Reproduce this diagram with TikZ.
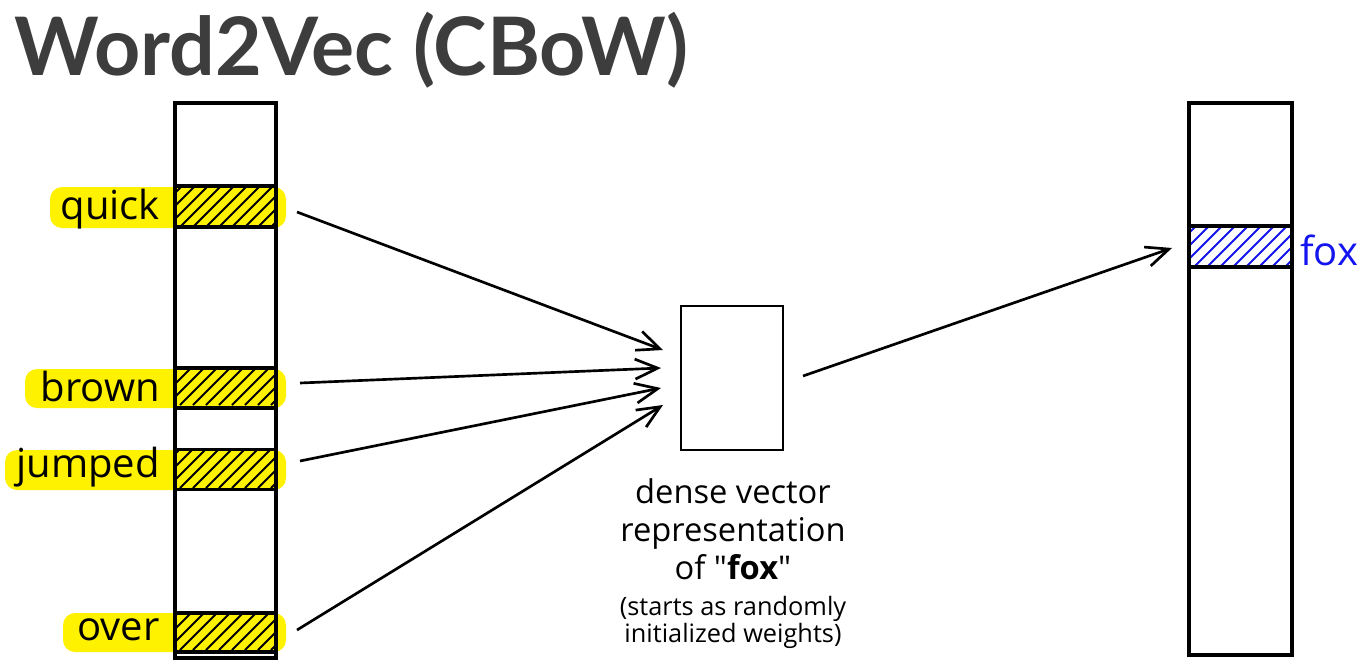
\documentclass[tikz,border=0pt]{standalone}
\usepackage{fontspec}
\setmainfont{Open Sans}
\newfontfamily\titlefont{Lato}
\usetikzlibrary{arrows.meta}
\definecolor{hlyellow}{HTML}{FFF200}
\definecolor{titlegray}{HTML}{3D3D3D}
\definecolor{foxblue}{HTML}{1414F0}
\tikzset{
  col/.style={draw=black, line width=2.5pt},
  cell/.style={draw=black, line width=2.6pt},
  hl/.style={fill=hlyellow, rounded corners=9pt},
  wlabel/.style={font=\fontsize{30}{33}\selectfont, anchor=east, inner sep=0pt},
  conn/.style={line width=2pt, -{Straight Barb[length=17pt,width=15pt,line width=2pt]}},
  desc/.style={font=\fontsize{24.5}{28.5}\selectfont, align=center},
}
\newcommand{\hatchcell}[5]{% x1 y1 x2 y2 colour
  \begin{scope}
    \clip (#1,#2) rectangle (#3,#4);
    \foreach \k in {-60,-47,...,130}{
      \draw[#5, line width=1.5pt] (#1+\k,#4) -- (#1+\k+60,#4-60);
    }
  \end{scope}
}
\begin{document}
\begin{tikzpicture}[x=0.75pt,y=-0.75pt]
\useasboundingbox (0,0) rectangle (1364,665);

% title
\node[anchor=west, inner sep=0pt, font=\titlefont\bfseries\fontsize{60.5}{66}\selectfont, text=titlegray] (title) at (14,50) {Word2Vec (CBoW)};

% yellow highlights
\fill[hl] (50,187) rectangle (286,228);
\fill[hl] (25,369) rectangle (286,408);
\fill[hl] (5,450) rectangle (286,490);
\fill[hl] (63,613) rectangle (286,652);

% hatching
\hatchcell{175}{186}{276}{227}{black}
\hatchcell{175}{368}{276}{405}{black}
\hatchcell{175}{450}{276}{488}{black}
\hatchcell{175}{613}{276}{650}{black}
\hatchcell{1189}{226}{1292}{267}{foxblue}

% columns
\draw[col] (175,103) rectangle (276,658);
\draw[col] (1189,103) rectangle (1292,655);

% cells
\node[cell, minimum width=75.75pt, minimum height=30.75pt, inner sep=0pt] (quick) at (225.5,206.5) {};
\node[cell, minimum width=75.75pt, minimum height=30pt, inner sep=0pt] (brown) at (225.5,388) {};
\node[cell, minimum width=75.75pt, minimum height=30pt, inner sep=0pt] (jumped) at (225.5,469.5) {};
\node[cell, minimum width=75.75pt, minimum height=29.25pt, inner sep=0pt] (over) at (225.5,632.5) {};
\node[cell, minimum width=77.25pt, minimum height=30.75pt, inner sep=0pt] (fox) at (1240.5,246.5) {};

% labels
\node[wlabel] (lquick) at (160,209) {quick};
\node[wlabel] (lbrown) at (160,386) {brown};
\node[wlabel] (ljumped) at (160,467) {jumped};
\node[wlabel] (lover) at (160,630) {over};
\node[wlabel, anchor=west, text=foxblue] (lfox) at (1300,250) {fox};

% middle box
\node[draw=black, line width=2pt, minimum width=76.5pt, minimum height=108pt, inner sep=0pt] (dense) at (732,378) {};

% description
\node[desc, anchor=north] (d1) at (733,474) {dense vector\\representation\\of \textquotedbl\textbf{fox}\textquotedbl};
\node[desc, anchor=north, font=\fontsize{19}{20}\selectfont] (d2) at (733,592) {(starts as randomly\\initialized weights)};

% connectors
\coordinate (sq) at (297,212);
\coordinate (sb) at (300,383);
\coordinate (sj) at (300,461);
\coordinate (so) at (297,630);
\coordinate (eq) at (663,350);
\coordinate (eb) at (661,368);
\coordinate (ej) at (661,388);
\coordinate (eo) at (663,405);
\coordinate (sd) at (803,376);
\coordinate (ef) at (1172,248);
\draw[conn] (sq) -- (eq);
\draw[conn] (sb) -- (eb);
\draw[conn] (sj) -- (ej);
\draw[conn] (so) -- (eo);
\draw[conn] (sd) -- (ef);
\end{tikzpicture}
\end{document}
